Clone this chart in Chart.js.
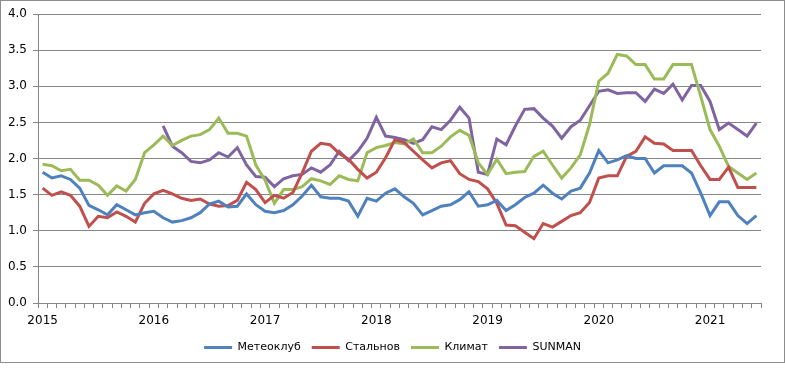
<!DOCTYPE html>
<html>
<head>
<meta charset="utf-8">
<script src="https://cdn.jsdelivr.net/npm/chart.js@4.4.1/dist/chart.umd.min.js"></script>
<style>
    body { margin: 0; background: #fff; }
    #wrap { position: relative; width: 785px; height: 370px; }
    #frame { position: absolute; left: 0; top: 0; width: 783px; height: 361px; border: 1px solid #8c8c8c; pointer-events: none; }
</style>
</head>
<body>
<div id="wrap">
    <canvas id="chartSales" width="785" height="370"></canvas>
    <div id="frame"></div>
</div>
<script>
// =========================
// DATA
// =========================
const years = ["2015", "2016", "2017", "2018", "2019", "2020", "2021"];
const monthCount = 78; // Jan 2015 .. Jun 2021

const meteoclub = [
    1.81, 1.73, 1.76, 1.71, 1.59, 1.35, 1.29, 1.22, 1.36, 1.29, 1.22, 1.25,
    1.27, 1.18, 1.12, 1.14, 1.18, 1.25, 1.37, 1.41, 1.33, 1.34, 1.51, 1.36,
    1.27, 1.25, 1.28, 1.36, 1.48, 1.63, 1.47, 1.45, 1.45, 1.41, 1.20, 1.45,
    1.41, 1.52, 1.58, 1.47, 1.38, 1.22, 1.28, 1.34, 1.36, 1.43, 1.54, 1.34,
    1.36, 1.42, 1.28, 1.36, 1.46, 1.52, 1.63, 1.52, 1.44, 1.55, 1.59, 1.80,
    2.11, 1.94, 1.98, 2.04, 2.00, 2.00, 1.80, 1.90, 1.90, 1.90, 1.80, 1.52,
    1.21, 1.40, 1.40, 1.21, 1.10, 1.21
];

const stalnov = [
    1.59, 1.49, 1.54, 1.49, 1.34, 1.06, 1.20, 1.18, 1.26, 1.20, 1.12, 1.38,
    1.51, 1.56, 1.51, 1.45, 1.42, 1.44, 1.37, 1.34, 1.35, 1.42, 1.67, 1.57,
    1.39, 1.49, 1.45, 1.53, 1.80, 2.10, 2.21, 2.19, 2.07, 1.99, 1.85, 1.73,
    1.81, 2.01, 2.26, 2.22, 2.10, 1.98, 1.87, 1.94, 1.97, 1.79, 1.71, 1.68,
    1.58, 1.38, 1.08, 1.07, 0.98, 0.89, 1.10, 1.05, 1.13, 1.21, 1.25, 1.39,
    1.73, 1.76, 1.76, 2.03, 2.10, 2.30, 2.21, 2.20, 2.11, 2.11, 2.11, 1.90,
    1.71, 1.71, 1.88, 1.60, 1.60, 1.60
];

const klimat = [
    1.92, 1.90, 1.83, 1.85, 1.70, 1.70, 1.63, 1.49, 1.62, 1.55, 1.71, 2.08,
    2.19, 2.31, 2.18, 2.25, 2.31, 2.33, 2.40, 2.56, 2.35, 2.35, 2.31, 1.91,
    1.70, 1.38, 1.57, 1.57, 1.61, 1.72, 1.69, 1.64, 1.76, 1.71, 1.69, 2.08,
    2.15, 2.18, 2.22, 2.20, 2.27, 2.08, 2.08, 2.17, 2.30, 2.39, 2.32, 1.94,
    1.78, 1.99, 1.79, 1.81, 1.82, 2.03, 2.10, 1.91, 1.73, 1.87, 2.05, 2.47,
    3.07, 3.18, 3.44, 3.42, 3.30, 3.30, 3.10, 3.10, 3.30, 3.30, 3.30, 2.86,
    2.40, 2.17, 1.89, 1.80, 1.71, 1.80
];

const sunman = [
    null, null, null, null, null, null, null, null, null, null, null, null,
    null, 2.45, 2.17, 2.08, 1.96, 1.94, 1.98, 2.08, 2.02, 2.15, 1.91, 1.75,
    1.74, 1.61, 1.72, 1.76, 1.78, 1.87, 1.81, 1.91, 2.10, 1.97, 2.10, 2.28,
    2.57, 2.31, 2.29, 2.26, 2.21, 2.26, 2.44, 2.40, 2.53, 2.71, 2.56, 1.81,
    1.78, 2.27, 2.19, 2.45, 2.68, 2.69, 2.56, 2.45, 2.28, 2.44, 2.53, 2.73,
    2.93, 2.95, 2.90, 2.91, 2.91, 2.79, 2.96, 2.90, 3.03, 2.81, 3.01, 3.01,
    2.79, 2.40, 2.49, 2.40, 2.31, 2.49
];

// month labels; only January gets the year text on the axis
const months = [];
for (let i = 0; i < monthCount; i++) {
    months.push(i % 12 === 0 ? years[i / 12] : "");
}

const gridColor = "#868686";

Chart.defaults.font.family = "'DejaVu Sans', Verdana, sans-serif";
Chart.defaults.color = "#000";

document.addEventListener("DOMContentLoaded", function () {

    createLineChart("chartSales", months, [
        { label: "Метеоклуб", data: meteoclub, color: "#4F81BD" },
        { label: "Стальнов", data: stalnov, color: "#C0504D" },
        { label: "Климат", data: klimat, color: "#9BBB59" },
        { label: "SUNMAN", data: sunman, color: "#8064A2" }
    ]);

});


// =========================
// LINE CHART
// =========================

function createLineChart(id, labels, series) {

    const ctx = document.getElementById(id);

    if (!ctx) return;

    new Chart(ctx, {

        type: "line",

        data: {
            labels: labels,
            datasets: series.map(function (s) {
                return {
                    label: s.label,
                    data: s.data,
                    borderColor: s.color,
                    backgroundColor: s.color,
                    borderWidth: 3,
                    pointRadius: 0,
                    tension: 0,
                    spanGaps: false
                };
            })
        },

        options: {
            responsive: false,
            animation: false,
            layout: {
                padding: { left: 0, right: 0, top: 14, bottom: 7 }
            },
            plugins: {
                tooltip: { enabled: false },
                legend: {
                    position: "bottom",
                    labels: {
                        usePointStyle: true,
                        pointStyle: "line",
                        pointStyleWidth: 28,
                        boxHeight: 11,
                        padding: 11,
                        font: { size: 11 }
                    }
                }
            },
            scales: {
                x: {
                    offset: true,
                    grid: {
                        offset: true,
                        drawOnChartArea: false,
                        drawTicks: true,
                        tickLength: 5,
                        tickWidth: 1,
                        tickColor: gridColor,
                        color: gridColor
                    },
                    border: { color: gridColor },
                    ticks: {
                        autoSkip: false,
                        maxRotation: 0,
                        padding: 6,
                        font: { size: 12 }
                    },
                    afterFit: function (scale) { scale.height = 28; }
                },
                y: {
                    min: 0,
                    max: 4,
                    grid: {
                        tickLength: 5,
                        color: gridColor
                    },
                    border: { color: gridColor },
                    ticks: {
                        stepSize: 0.5,
                        padding: 6,
                        font: { size: 12 },
                        callback: function (v) { return v.toFixed(1); }
                    },
                    afterFit: function (scale) { scale.width = 38; }
                },
                // empty right axis, only keeps the white margin on the right
                yRight: {
                    position: "right",
                    grid: { display: false },
                    border: { display: false },
                    ticks: { display: false },
                    afterFit: function (scale) { scale.width = 24; }
                }
            }
        }

    });

}
</script>
</body>
</html>
